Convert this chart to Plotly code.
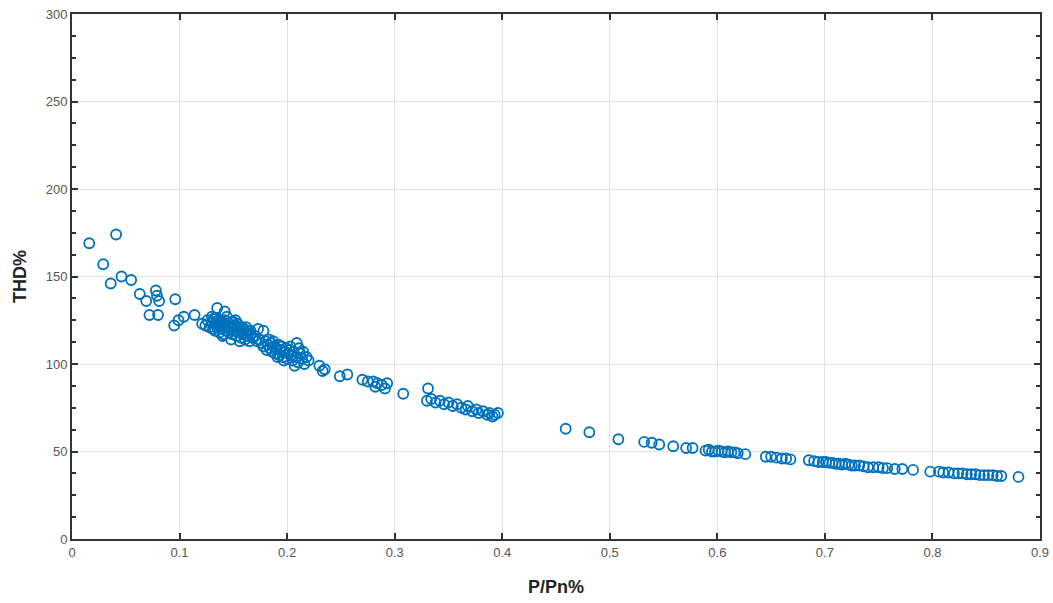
import plotly.graph_objects as go

# P/Pn% and THD% values
p_sparse = [0.016, 0.029, 0.041, 0.036, 0.046, 0.055, 0.063, 0.069, 0.078, 0.079, 0.081, 0.072,
            0.080, 0.096, 0.095, 0.099, 0.104, 0.114, 0.173, 0.178]
thd_sparse = [169, 157, 174, 146, 150, 148, 140, 136, 142, 139, 136, 128,
              128, 137, 122, 125, 127, 128, 120, 119]

p_cluster_a = [0.121, 0.124, 0.126, 0.128, 0.130, 0.131, 0.132, 0.133, 0.134, 0.135, 0.136, 0.137,
               0.138, 0.139, 0.140, 0.141, 0.142, 0.143, 0.144, 0.145, 0.146, 0.147, 0.148, 0.149,
               0.150, 0.151, 0.152, 0.153, 0.154, 0.155, 0.156, 0.157, 0.158, 0.159, 0.160, 0.161,
               0.162, 0.163, 0.164, 0.165, 0.166, 0.168, 0.170, 0.172, 0.174,
               0.130, 0.134, 0.138, 0.142, 0.146, 0.150, 0.154, 0.158, 0.162, 0.166, 0.140, 0.148,
               0.156, 0.144, 0.152, 0.135, 0.142]
thd_cluster_a = [123, 122, 125, 121, 124, 120, 126, 119, 123, 121, 125, 118,
                 122, 120, 124, 117, 121, 123, 119, 122, 118, 120, 124, 117,
                 121, 119, 122, 116, 120, 118, 121, 115, 119, 117, 120, 114,
                 118, 116, 119, 113, 117, 115, 116, 113, 114,
                 127, 126, 124, 125, 123, 124, 123, 121, 121, 119, 116, 114,
                 113, 127, 125, 132, 130]

p_cluster_b = [0.176, 0.178, 0.180, 0.181, 0.182, 0.184, 0.185, 0.186, 0.188, 0.189, 0.190, 0.192,
               0.193, 0.194, 0.195, 0.196, 0.198, 0.199, 0.200, 0.201, 0.202, 0.204, 0.205, 0.206,
               0.208, 0.209, 0.210, 0.212, 0.214, 0.216, 0.218, 0.220,
               0.183, 0.187, 0.191, 0.197, 0.203, 0.207, 0.211, 0.215]
thd_cluster_b = [112, 110, 113, 108, 111, 109, 112, 107, 110, 106, 109, 111,
                 105, 108, 110, 104, 107, 109, 103, 106, 108, 105, 102, 107,
                 104, 112, 101, 106, 103, 100, 104, 102,
                 114, 113, 104, 102, 110, 99, 109, 107]

p_mid = [0.230, 0.233, 0.235, 0.249, 0.256, 0.270, 0.275, 0.280, 0.282, 0.284, 0.288, 0.291,
         0.293, 0.308,
         0.331, 0.330, 0.334, 0.338, 0.342, 0.346, 0.350, 0.354, 0.358, 0.362, 0.366, 0.368,
         0.372, 0.376, 0.378, 0.382, 0.386, 0.388, 0.391, 0.393, 0.396]
thd_mid = [99, 96, 97, 93, 94, 91, 90, 90, 87, 89, 88, 86,
           89, 83,
           86, 79, 80, 78, 79, 77, 78, 76, 77, 75, 74, 76,
           73, 74, 72, 73, 71, 72, 70, 71, 72]

p_high = [0.459, 0.481, 0.508, 0.532, 0.539, 0.546, 0.559, 0.571, 0.577,
          0.589, 0.592, 0.595, 0.598, 0.601, 0.604, 0.607, 0.610, 0.613, 0.616, 0.619, 0.626,
          0.645, 0.650, 0.655, 0.660, 0.664, 0.668,
          0.685, 0.690, 0.694, 0.698, 0.701, 0.704, 0.707, 0.710, 0.713, 0.716, 0.719, 0.722,
          0.725, 0.728, 0.732, 0.736, 0.740, 0.745, 0.750, 0.754, 0.758, 0.765, 0.772, 0.782,
          0.798, 0.806, 0.810, 0.815, 0.820, 0.824, 0.828, 0.832, 0.836, 0.840, 0.844, 0.848,
          0.852, 0.856, 0.860, 0.864, 0.880]
thd_high = [63, 61, 57, 55.5, 55, 54, 53, 52, 52,
            50.5, 51, 50, 50, 50.5, 50, 49.5, 50, 49.5, 49.5, 49, 48.5,
            47, 47, 46.5, 46, 46, 45.5,
            45, 44.5, 44, 44, 44, 43.5, 43.5, 43, 43, 42.5, 43, 42.5,
            42, 42, 42, 41.5, 41, 41, 41, 40.5, 40.5, 40, 40, 39.5,
            38.5, 38.5, 38, 38, 37.5, 37.5, 37.5, 37, 37, 37, 36.5, 36.5,
            36.5, 36.5, 36, 36, 35.5]

x_vals = p_sparse + p_cluster_a + p_cluster_b + p_mid + p_high
y_vals = thd_sparse + thd_cluster_a + thd_cluster_b + thd_mid + thd_high

x_ticks = [0, 0.1, 0.2, 0.3, 0.4, 0.5, 0.6, 0.7, 0.8, 0.9]
x_tick_labels = ["0", "0.1", "0.2", "0.3", "0.4", "0.5", "0.6", "0.7", "0.8", "0.9"]
y_ticks = [0, 50, 100, 150, 200, 250, 300]

fig = go.Figure()
fig.add_trace(go.Scatter(
    x=x_vals, y=y_vals, mode="markers",
    marker=dict(symbol="circle-open", size=10, color="#0072BD", line=dict(width=1.8, color="#0072BD")),
    showlegend=False,
))

tick_font = dict(family="Liberation Sans Narrow, Liberation Sans, Arial", size=13, color="#555555")
title_font = dict(family="Liberation Sans, Arial", size=18, color="#222222")

fig.update_layout(
    width=1053, height=603,
    margin=dict(l=72, r=13, t=14, b=64),
    paper_bgcolor="white", plot_bgcolor="white",
    xaxis=dict(
        range=[0, 0.9], tickvals=x_ticks, ticktext=x_tick_labels, automargin=False,
        showgrid=True, gridcolor="#e3e3e3", gridwidth=1,
        showline=True, linecolor="#333333", linewidth=2, mirror="ticks",
        ticks="inside", ticklen=6, tickcolor="#333333", tickwidth=1.5,
        tickfont=tick_font, zeroline=False,
        title=dict(text="<b>P/Pn%</b>", font=title_font, standoff=22),
    ),
    yaxis=dict(
        range=[0, 300], tickvals=y_ticks, automargin=False,
        showgrid=True, gridcolor="#e3e3e3", gridwidth=1,
        showline=True, linecolor="#333333", linewidth=2, mirror="ticks",
        ticks="inside", ticklen=6, tickcolor="#333333", tickwidth=1.5,
        tickfont=tick_font, zeroline=False,
        minor=dict(dtick=12.5, ticks="inside", ticklen=4, tickcolor="#333333", showgrid=False),
        title=dict(text="<b>THD%</b>", font=title_font, standoff=14),
    ),
)

fig.write_html("out.html",
               config={"displayModeBar": False},
               post_script="document.body.style.margin='0';document.body.style.overflow='hidden';")
